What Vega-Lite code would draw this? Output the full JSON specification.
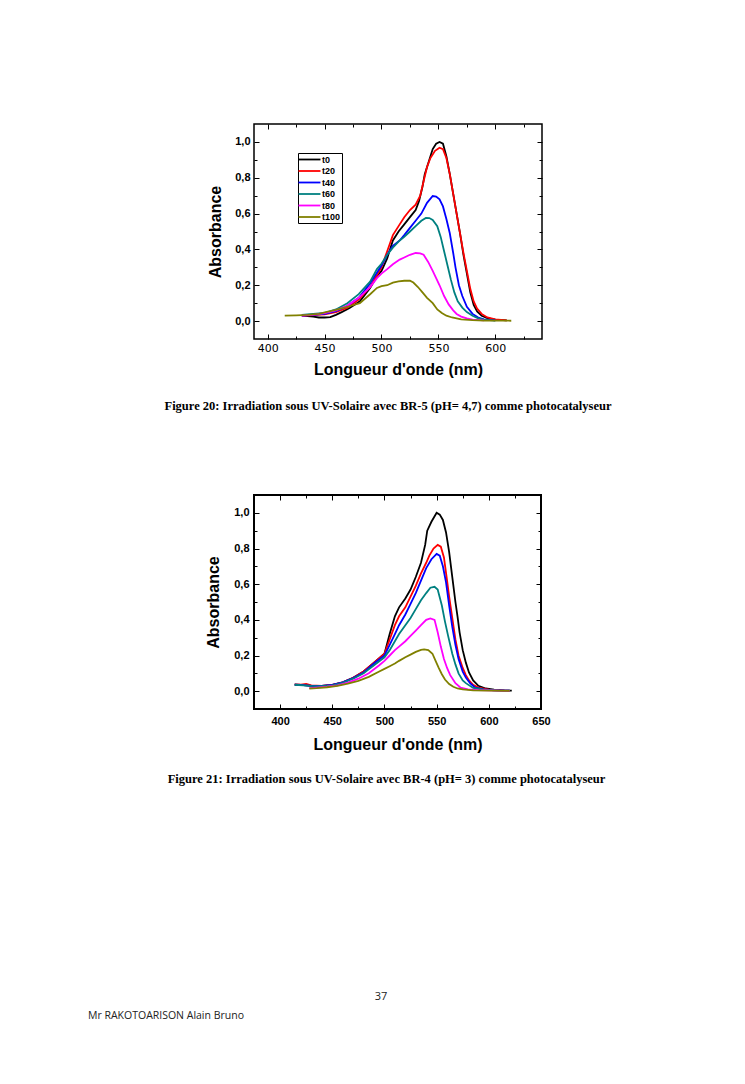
{
"$schema": "https://vega.github.io/schema/vega-lite/v6.json",
"padding": {"left": 88, "top": 122, "right": 5, "bottom": 5},
"background": "white",
"config": {
  "axis": {"domain": false, "grid": false, "tickColor": "black", "tickWidth": 1, "labelColor": "black", "titleColor": "black", "labelFont": "Liberation Sans", "labelFontSize": 11, "labelFontWeight": "bold", "titleFont": "Liberation Sans", "titleFontSize": 16, "titleFontWeight": "bold", "labelFlush": false, "labelOverlap": false},
  "legend": {"orient": "none", "title": null, "strokeColor": "black", "fillColor": "white", "padding": 1, "labelFont": "Liberation Sans", "labelFontSize": 9, "labelFontWeight": "bold", "labelColor": "black", "symbolType": "M-1.33,0L3.55,0", "symbolSize": 81, "labelOffset": 12, "rowPadding": 0.5},
  "title": {"color": "black"}
},
"datasets": {
"fig20": [
{"t":"t0","x":430,"y":0.03},{"t":"t0","x":440,"y":0.025},{"t":"t0","x":445,"y":0.02},{"t":"t0","x":450,"y":0.02},{"t":"t0","x":455,"y":0.022},{"t":"t0","x":460,"y":0.035},{"t":"t0","x":465,"y":0.05},{"t":"t0","x":472,"y":0.073},{"t":"t0","x":481,"y":0.11},{"t":"t0","x":490,"y":0.185},{"t":"t0","x":496,"y":0.25},{"t":"t0","x":500,"y":0.28},{"t":"t0","x":505,"y":0.35},{"t":"t0","x":510,"y":0.45},{"t":"t0","x":515,"y":0.5},{"t":"t0","x":520,"y":0.54},{"t":"t0","x":525,"y":0.58},{"t":"t0","x":530,"y":0.62},{"t":"t0","x":533,"y":0.67},{"t":"t0","x":536,"y":0.75},{"t":"t0","x":538,"y":0.82},{"t":"t0","x":541,"y":0.88},{"t":"t0","x":545,"y":0.96},{"t":"t0","x":548,"y":0.99},{"t":"t0","x":551,"y":1.0},{"t":"t0","x":554,"y":0.99},{"t":"t0","x":557,"y":0.92},{"t":"t0","x":560,"y":0.82},{"t":"t0","x":563,"y":0.71},{"t":"t0","x":566,"y":0.6},{"t":"t0","x":569,"y":0.49},{"t":"t0","x":572,"y":0.37},{"t":"t0","x":574,"y":0.3},{"t":"t0","x":578,"y":0.16},{"t":"t0","x":581,"y":0.09},{"t":"t0","x":584,"y":0.054},{"t":"t0","x":588,"y":0.03},{"t":"t0","x":593,"y":0.017},{"t":"t0","x":600,"y":0.008},{"t":"t0","x":610,"y":0.004},
{"t":"t20","x":430,"y":0.03},{"t":"t20","x":440,"y":0.033},{"t":"t20","x":450,"y":0.038},{"t":"t20","x":460,"y":0.05},{"t":"t20","x":470,"y":0.075},{"t":"t20","x":480,"y":0.12},{"t":"t20","x":490,"y":0.19},{"t":"t20","x":500,"y":0.3},{"t":"t20","x":505,"y":0.39},{"t":"t20","x":510,"y":0.48},{"t":"t20","x":515,"y":0.53},{"t":"t20","x":520,"y":0.58},{"t":"t20","x":525,"y":0.62},{"t":"t20","x":530,"y":0.65},{"t":"t20","x":534,"y":0.7},{"t":"t20","x":537,"y":0.78},{"t":"t20","x":540,"y":0.86},{"t":"t20","x":543,"y":0.91},{"t":"t20","x":547,"y":0.95},{"t":"t20","x":551,"y":0.968},{"t":"t20","x":554,"y":0.96},{"t":"t20","x":557,"y":0.91},{"t":"t20","x":560,"y":0.82},{"t":"t20","x":563,"y":0.71},{"t":"t20","x":566,"y":0.6},{"t":"t20","x":569,"y":0.49},{"t":"t20","x":572,"y":0.38},{"t":"t20","x":575,"y":0.28},{"t":"t20","x":578,"y":0.18},{"t":"t20","x":581,"y":0.11},{"t":"t20","x":584,"y":0.07},{"t":"t20","x":588,"y":0.04},{"t":"t20","x":593,"y":0.02},{"t":"t20","x":600,"y":0.01},{"t":"t20","x":610,"y":0.004},
{"t":"t40","x":430,"y":0.03},{"t":"t40","x":440,"y":0.035},{"t":"t40","x":450,"y":0.04},{"t":"t40","x":460,"y":0.055},{"t":"t40","x":470,"y":0.085},{"t":"t40","x":480,"y":0.13},{"t":"t40","x":490,"y":0.21},{"t":"t40","x":500,"y":0.31},{"t":"t40","x":505,"y":0.37},{"t":"t40","x":510,"y":0.42},{"t":"t40","x":516,"y":0.45},{"t":"t40","x":520,"y":0.48},{"t":"t40","x":525,"y":0.52},{"t":"t40","x":530,"y":0.56},{"t":"t40","x":535,"y":0.6},{"t":"t40","x":540,"y":0.66},{"t":"t40","x":545,"y":0.698},{"t":"t40","x":548,"y":0.695},{"t":"t40","x":551,"y":0.68},{"t":"t40","x":554,"y":0.64},{"t":"t40","x":557,"y":0.57},{"t":"t40","x":560,"y":0.49},{"t":"t40","x":563,"y":0.38},{"t":"t40","x":565,"y":0.3},{"t":"t40","x":568,"y":0.2},{"t":"t40","x":571,"y":0.14},{"t":"t40","x":575,"y":0.08},{"t":"t40","x":580,"y":0.04},{"t":"t40","x":585,"y":0.02},{"t":"t40","x":590,"y":0.01},{"t":"t40","x":600,"y":0.004},
{"t":"t60","x":430,"y":0.035},{"t":"t60","x":440,"y":0.04},{"t":"t60","x":450,"y":0.045},{"t":"t60","x":460,"y":0.065},{"t":"t60","x":470,"y":0.1},{"t":"t60","x":480,"y":0.15},{"t":"t60","x":490,"y":0.22},{"t":"t60","x":496,"y":0.29},{"t":"t60","x":500,"y":0.32},{"t":"t60","x":505,"y":0.37},{"t":"t60","x":510,"y":0.41},{"t":"t60","x":516,"y":0.45},{"t":"t60","x":520,"y":0.47},{"t":"t60","x":525,"y":0.5},{"t":"t60","x":530,"y":0.53},{"t":"t60","x":535,"y":0.56},{"t":"t60","x":539,"y":0.576},{"t":"t60","x":542,"y":0.575},{"t":"t60","x":545,"y":0.565},{"t":"t60","x":549,"y":0.53},{"t":"t60","x":552,"y":0.47},{"t":"t60","x":555,"y":0.39},{"t":"t60","x":558,"y":0.31},{"t":"t60","x":561,"y":0.23},{"t":"t60","x":564,"y":0.16},{"t":"t60","x":567,"y":0.11},{"t":"t60","x":571,"y":0.075},{"t":"t60","x":575,"y":0.05},{"t":"t60","x":580,"y":0.03},{"t":"t60","x":585,"y":0.015},{"t":"t60","x":590,"y":0.008},{"t":"t60","x":600,"y":0.003},
{"t":"t80","x":430,"y":0.03},{"t":"t80","x":440,"y":0.035},{"t":"t80","x":450,"y":0.045},{"t":"t80","x":460,"y":0.06},{"t":"t80","x":470,"y":0.085},{"t":"t80","x":480,"y":0.13},{"t":"t80","x":490,"y":0.19},{"t":"t80","x":496,"y":0.24},{"t":"t80","x":500,"y":0.265},{"t":"t80","x":505,"y":0.29},{"t":"t80","x":510,"y":0.317},{"t":"t80","x":516,"y":0.343},{"t":"t80","x":520,"y":0.355},{"t":"t80","x":525,"y":0.37},{"t":"t80","x":530,"y":0.38},{"t":"t80","x":534,"y":0.378},{"t":"t80","x":537,"y":0.37},{"t":"t80","x":541,"y":0.33},{"t":"t80","x":545,"y":0.28},{"t":"t80","x":548,"y":0.24},{"t":"t80","x":551,"y":0.2},{"t":"t80","x":555,"y":0.14},{"t":"t80","x":559,"y":0.093},{"t":"t80","x":563,"y":0.06},{"t":"t80","x":566,"y":0.04},{"t":"t80","x":570,"y":0.025},{"t":"t80","x":575,"y":0.015},{"t":"t80","x":580,"y":0.008},{"t":"t80","x":590,"y":0.004},
{"t":"t100","x":415,"y":0.03},{"t":"t100","x":425,"y":0.032},{"t":"t100","x":435,"y":0.035},{"t":"t100","x":445,"y":0.04},{"t":"t100","x":451,"y":0.05},{"t":"t100","x":460,"y":0.062},{"t":"t100","x":470,"y":0.08},{"t":"t100","x":481,"y":0.1},{"t":"t100","x":490,"y":0.15},{"t":"t100","x":496,"y":0.185},{"t":"t100","x":500,"y":0.195},{"t":"t100","x":505,"y":0.2},{"t":"t100","x":510,"y":0.215},{"t":"t100","x":515,"y":0.222},{"t":"t100","x":520,"y":0.225},{"t":"t100","x":525,"y":0.225},{"t":"t100","x":528,"y":0.215},{"t":"t100","x":532,"y":0.19},{"t":"t100","x":536,"y":0.16},{"t":"t100","x":540,"y":0.13},{"t":"t100","x":545,"y":0.1},{"t":"t100","x":549,"y":0.065},{"t":"t100","x":553,"y":0.045},{"t":"t100","x":557,"y":0.03},{"t":"t100","x":562,"y":0.02},{"t":"t100","x":570,"y":0.01},{"t":"t100","x":580,"y":0.005},{"t":"t100","x":590,"y":0.003},{"t":"t100","x":600,"y":0.002},{"t":"t100","x":614,"y":0.002}
],
"fig21": [
{"t":"t0","x":414,"y":0.036},{"t":"t0","x":420,"y":0.035},{"t":"t0","x":430,"y":0.03},{"t":"t0","x":440,"y":0.03},{"t":"t0","x":450,"y":0.035},{"t":"t0","x":460,"y":0.05},{"t":"t0","x":470,"y":0.075},{"t":"t0","x":480,"y":0.11},{"t":"t0","x":490,"y":0.16},{"t":"t0","x":500,"y":0.21},{"t":"t0","x":505,"y":0.32},{"t":"t0","x":510,"y":0.42},{"t":"t0","x":514,"y":0.47},{"t":"t0","x":520,"y":0.52},{"t":"t0","x":525,"y":0.57},{"t":"t0","x":530,"y":0.64},{"t":"t0","x":535,"y":0.72},{"t":"t0","x":539,"y":0.82},{"t":"t0","x":541,"y":0.9},{"t":"t0","x":545,"y":0.95},{"t":"t0","x":550,"y":1.0},{"t":"t0","x":553,"y":0.99},{"t":"t0","x":556,"y":0.96},{"t":"t0","x":559,"y":0.89},{"t":"t0","x":562,"y":0.78},{"t":"t0","x":565,"y":0.64},{"t":"t0","x":568,"y":0.5},{"t":"t0","x":570,"y":0.42},{"t":"t0","x":572,"y":0.33},{"t":"t0","x":575,"y":0.23},{"t":"t0","x":578,"y":0.16},{"t":"t0","x":581,"y":0.105},{"t":"t0","x":585,"y":0.06},{"t":"t0","x":590,"y":0.03},{"t":"t0","x":597,"y":0.015},{"t":"t0","x":605,"y":0.008},{"t":"t0","x":615,"y":0.004},{"t":"t0","x":622,"y":0.003},
{"t":"t20","x":414,"y":0.038},{"t":"t20","x":420,"y":0.036},{"t":"t20","x":425,"y":0.04},{"t":"t20","x":430,"y":0.033},{"t":"t20","x":440,"y":0.03},{"t":"t20","x":450,"y":0.035},{"t":"t20","x":460,"y":0.05},{"t":"t20","x":470,"y":0.075},{"t":"t20","x":480,"y":0.11},{"t":"t20","x":490,"y":0.16},{"t":"t20","x":500,"y":0.21},{"t":"t20","x":505,"y":0.29},{"t":"t20","x":510,"y":0.37},{"t":"t20","x":514,"y":0.42},{"t":"t20","x":520,"y":0.47},{"t":"t20","x":525,"y":0.53},{"t":"t20","x":530,"y":0.59},{"t":"t20","x":535,"y":0.66},{"t":"t20","x":540,"y":0.72},{"t":"t20","x":543,"y":0.76},{"t":"t20","x":547,"y":0.8},{"t":"t20","x":551,"y":0.82},{"t":"t20","x":554,"y":0.81},{"t":"t20","x":557,"y":0.75},{"t":"t20","x":560,"y":0.62},{"t":"t20","x":562,"y":0.53},{"t":"t20","x":565,"y":0.41},{"t":"t20","x":568,"y":0.29},{"t":"t20","x":571,"y":0.2},{"t":"t20","x":575,"y":0.13},{"t":"t20","x":578,"y":0.09},{"t":"t20","x":581,"y":0.06},{"t":"t20","x":585,"y":0.035},{"t":"t20","x":590,"y":0.02},{"t":"t20","x":600,"y":0.008},{"t":"t20","x":610,"y":0.004},{"t":"t20","x":620,"y":0.003},
{"t":"t40","x":414,"y":0.037},{"t":"t40","x":420,"y":0.035},{"t":"t40","x":430,"y":0.03},{"t":"t40","x":440,"y":0.03},{"t":"t40","x":450,"y":0.035},{"t":"t40","x":460,"y":0.05},{"t":"t40","x":470,"y":0.073},{"t":"t40","x":480,"y":0.105},{"t":"t40","x":490,"y":0.155},{"t":"t40","x":500,"y":0.2},{"t":"t40","x":505,"y":0.26},{"t":"t40","x":510,"y":0.32},{"t":"t40","x":514,"y":0.37},{"t":"t40","x":520,"y":0.43},{"t":"t40","x":525,"y":0.49},{"t":"t40","x":530,"y":0.55},{"t":"t40","x":535,"y":0.62},{"t":"t40","x":540,"y":0.69},{"t":"t40","x":545,"y":0.74},{"t":"t40","x":550,"y":0.77},{"t":"t40","x":553,"y":0.76},{"t":"t40","x":556,"y":0.7},{"t":"t40","x":559,"y":0.61},{"t":"t40","x":562,"y":0.48},{"t":"t40","x":565,"y":0.36},{"t":"t40","x":568,"y":0.26},{"t":"t40","x":571,"y":0.18},{"t":"t40","x":575,"y":0.11},{"t":"t40","x":578,"y":0.077},{"t":"t40","x":582,"y":0.045},{"t":"t40","x":587,"y":0.02},{"t":"t40","x":595,"y":0.01},{"t":"t40","x":605,"y":0.005},{"t":"t40","x":620,"y":0.003},
{"t":"t60","x":414,"y":0.036},{"t":"t60","x":430,"y":0.03},{"t":"t60","x":440,"y":0.028},{"t":"t60","x":450,"y":0.033},{"t":"t60","x":460,"y":0.047},{"t":"t60","x":470,"y":0.07},{"t":"t60","x":480,"y":0.1},{"t":"t60","x":490,"y":0.145},{"t":"t60","x":500,"y":0.19},{"t":"t60","x":505,"y":0.23},{"t":"t60","x":510,"y":0.28},{"t":"t60","x":514,"y":0.32},{"t":"t60","x":520,"y":0.37},{"t":"t60","x":525,"y":0.41},{"t":"t60","x":530,"y":0.46},{"t":"t60","x":535,"y":0.51},{"t":"t60","x":540,"y":0.55},{"t":"t60","x":544,"y":0.58},{"t":"t60","x":548,"y":0.585},{"t":"t60","x":551,"y":0.57},{"t":"t60","x":555,"y":0.48},{"t":"t60","x":558,"y":0.39},{"t":"t60","x":561,"y":0.31},{"t":"t60","x":565,"y":0.21},{"t":"t60","x":568,"y":0.15},{"t":"t60","x":571,"y":0.1},{"t":"t60","x":575,"y":0.06},{"t":"t60","x":578,"y":0.045},{"t":"t60","x":585,"y":0.018},{"t":"t60","x":595,"y":0.008},{"t":"t60","x":610,"y":0.004},{"t":"t60","x":620,"y":0.003},
{"t":"t80","x":428,"y":0.017},{"t":"t80","x":435,"y":0.02},{"t":"t80","x":445,"y":0.025},{"t":"t80","x":455,"y":0.033},{"t":"t80","x":465,"y":0.048},{"t":"t80","x":475,"y":0.07},{"t":"t80","x":485,"y":0.1},{"t":"t80","x":495,"y":0.145},{"t":"t80","x":500,"y":0.17},{"t":"t80","x":505,"y":0.2},{"t":"t80","x":510,"y":0.23},{"t":"t80","x":514,"y":0.25},{"t":"t80","x":520,"y":0.28},{"t":"t80","x":525,"y":0.31},{"t":"t80","x":530,"y":0.34},{"t":"t80","x":535,"y":0.37},{"t":"t80","x":540,"y":0.4},{"t":"t80","x":544,"y":0.408},{"t":"t80","x":548,"y":0.4},{"t":"t80","x":551,"y":0.33},{"t":"t80","x":554,"y":0.25},{"t":"t80","x":557,"y":0.18},{"t":"t80","x":560,"y":0.13},{"t":"t80","x":563,"y":0.09},{"t":"t80","x":568,"y":0.045},{"t":"t80","x":573,"y":0.02},{"t":"t80","x":580,"y":0.01},{"t":"t80","x":590,"y":0.006},{"t":"t80","x":610,"y":0.003},{"t":"t80","x":620,"y":0.002},
{"t":"t100","x":428,"y":0.015},{"t":"t100","x":435,"y":0.017},{"t":"t100","x":445,"y":0.022},{"t":"t100","x":455,"y":0.03},{"t":"t100","x":465,"y":0.042},{"t":"t100","x":475,"y":0.058},{"t":"t100","x":485,"y":0.08},{"t":"t100","x":495,"y":0.11},{"t":"t100","x":500,"y":0.125},{"t":"t100","x":505,"y":0.14},{"t":"t100","x":510,"y":0.155},{"t":"t100","x":514,"y":0.17},{"t":"t100","x":520,"y":0.19},{"t":"t100","x":525,"y":0.205},{"t":"t100","x":530,"y":0.22},{"t":"t100","x":535,"y":0.232},{"t":"t100","x":538,"y":0.234},{"t":"t100","x":542,"y":0.23},{"t":"t100","x":546,"y":0.21},{"t":"t100","x":549,"y":0.17},{"t":"t100","x":552,"y":0.13},{"t":"t100","x":555,"y":0.095},{"t":"t100","x":558,"y":0.065},{"t":"t100","x":562,"y":0.04},{"t":"t100","x":566,"y":0.025},{"t":"t100","x":570,"y":0.015},{"t":"t100","x":575,"y":0.01},{"t":"t100","x":585,"y":0.005},{"t":"t100","x":600,"y":0.003},{"t":"t100","x":620,"y":0.002}
]
},
"spacing": 203,
"vconcat": [
{
 "spacing": 79,
 "vconcat": [
 {
  "width": 288, "height": 215,
  "data": {"name": "fig20"},
  "view": {"stroke": "black", "strokeWidth": 1.5},
  "title": {"text": "Figure 20: Irradiation sous UV-Solaire avec BR-5 (pH= 4,7) comme photocatalyseur", "orient": "bottom", "anchor": "middle", "frame": "group", "dx": -10, "offset": 23, "font": "Liberation Serif", "fontSize": 12.5, "fontWeight": "bold", "color": "black"},
  "layer": [
   {
    "mark": {"type": "line"},
    "encoding": {
     "x": {"field": "x", "type": "quantitative", "scale": {"domain": [388, 641], "nice": false, "zero": false},
       "axis": {"orient": "bottom", "title": "Longueur d'onde (nm)", "values": [400,425,450,475,500,525,550,575,600,625], "labelExpr": "datum.value % 50 === 0 ? datum.label : ''", "labelFont": "DejaVu Sans", "labelFontWeight": "normal", "labelPadding": 8, "titlePadding": 6, "tickSize": {"condition": {"test": "datum.value % 50 === 0", "value": -5}, "value": -3}}},
     "y": {"field": "y", "type": "quantitative", "scale": {"domain": [-0.1, 1.1], "nice": false, "zero": false},
       "axis": {"orient": "left", "title": "Absorbance", "values": [0,0.1,0.2,0.3,0.4,0.5,0.6,0.7,0.8,0.9,1.0], "labelExpr": "round(datum.value*10) % 2 === 0 ? replace(format(datum.value, '.1f'), '.', ',') : ''", "labelPadding": 9, "titlePadding": 11, "tickSize": {"condition": {"test": "round(datum.value*10) % 2 === 0", "value": -5}, "value": -3}}},
     "color": {"field": "t", "type": "ordinal", "scale": {"domain": ["t0","t20","t40","t60","t80","t100"], "range": ["#000000","#ff0000","#0000ff","#008080","#ff00ff","#808000"]}, "legend": {"legendX": 44, "legendY": 29}},
     "strokeWidth": {"field": "t", "type": "ordinal", "scale": {"domain": ["t0","t20","t40","t60","t80","t100"], "range": [1.8,1.8,1.1,1.5,1.5,1.6]}, "legend": {"legendX": 44, "legendY": 29}}
    }
   },
   {
    "mark": {"type": "line", "opacity": 0},
    "encoding": {
     "x": {"field": "x", "type": "quantitative", "axis": {"orient": "top", "title": null, "labels": false, "values": [400,425,450,475,500,525,550,575,600,625], "tickSize": {"condition": {"test": "datum.value % 50 === 0", "value": -5}, "value": -3}}},
     "y": {"field": "y", "type": "quantitative", "axis": {"orient": "right", "title": null, "labels": false, "values": [0,0.1,0.2,0.3,0.4,0.5,0.6,0.7,0.8,0.9,1.0], "tickSize": {"condition": {"test": "round(datum.value*10) % 2 === 0", "value": -5}, "value": -3}}}
    }
   }
  ],
  "resolve": {"axis": {"x": "independent", "y": "independent"}}
 },
 {
  "width": 287, "height": 214,
  "data": {"name": "fig21"},
  "view": {"stroke": "black", "strokeWidth": 2},
  "title": {"text": "Figure 21: Irradiation sous UV-Solaire avec BR-4 (pH= 3) comme photocatalyseur", "orient": "bottom", "anchor": "middle", "frame": "group", "dx": -11, "offset": 21, "font": "Liberation Serif", "fontSize": 12.5, "fontWeight": "bold", "color": "black"},
  "layer": [
   {
    "mark": {"type": "line"},
    "encoding": {
     "x": {"field": "x", "type": "quantitative", "scale": {"domain": [375, 650], "nice": false, "zero": false},
       "axis": {"orient": "bottom", "title": "Longueur d'onde (nm)", "values": [400,425,450,475,500,525,550,575,600,625,650], "labelExpr": "datum.value % 50 === 0 ? datum.label : ''", "labelPadding": 11, "titlePadding": 8, "tickSize": {"condition": {"test": "datum.value % 50 === 0", "value": -5}, "value": -3}}},
     "y": {"field": "y", "type": "quantitative", "scale": {"domain": [-0.1, 1.1], "nice": false, "zero": false},
       "axis": {"orient": "left", "title": "Absorbance", "values": [0,0.1,0.2,0.3,0.4,0.5,0.6,0.7,0.8,0.9,1.0], "labelExpr": "round(datum.value*10) % 2 === 0 ? replace(format(datum.value, '.1f'), '.', ',') : ''", "labelPadding": 10, "titlePadding": 12, "tickSize": {"condition": {"test": "round(datum.value*10) % 2 === 0", "value": -5}, "value": -3}}},
     "color": {"field": "t", "type": "ordinal", "scale": {"domain": ["t0","t20","t40","t60","t80","t100"], "range": ["#000000","#ff0000","#0000ff","#008080","#ff00ff","#808000"]}, "legend": {"legendX": 32, "legendY": 27}},
     "strokeWidth": {"field": "t", "type": "ordinal", "scale": {"domain": ["t0","t20","t40","t60","t80","t100"], "range": [2,1.2,1.8,1.1,1.8,1.8]}, "legend": {"legendX": 32, "legendY": 27}}
    }
   },
   {
    "mark": {"type": "line", "opacity": 0},
    "encoding": {
     "x": {"field": "x", "type": "quantitative", "axis": {"orient": "top", "title": null, "labels": false, "values": [400,425,450,475,500,525,550,575,600,625], "tickSize": {"condition": {"test": "datum.value % 50 === 0", "value": -5}, "value": -3}}},
     "y": {"field": "y", "type": "quantitative", "axis": {"orient": "right", "title": null, "labels": false, "values": [0,0.1,0.2,0.3,0.4,0.5,0.6,0.7,0.8,0.9,1.0], "tickSize": {"condition": {"test": "round(datum.value*10) % 2 === 0", "value": -5}, "value": -3}}}
    }
   }
  ],
  "resolve": {"axis": {"x": "independent", "y": "independent"}}
 }
 ]
},
{
 "width": 254, "height": 1,
 "data": {"values": [{"page": "37"}]},
 "view": {"stroke": null},
 "mark": {"type": "text", "font": "Open Sans", "fontSize": 11, "color": "#222222"},
 "encoding": {"text": {"field": "page", "type": "nominal"}},
 "title": {"text": "Mr RAKOTOARISON Alain Bruno", "orient": "bottom", "anchor": "start", "frame": "group", "dx": -166, "offset": 9, "font": "Open Sans", "fontSize": 10.5, "fontWeight": "normal", "color": "#222222"}
}
]
}
